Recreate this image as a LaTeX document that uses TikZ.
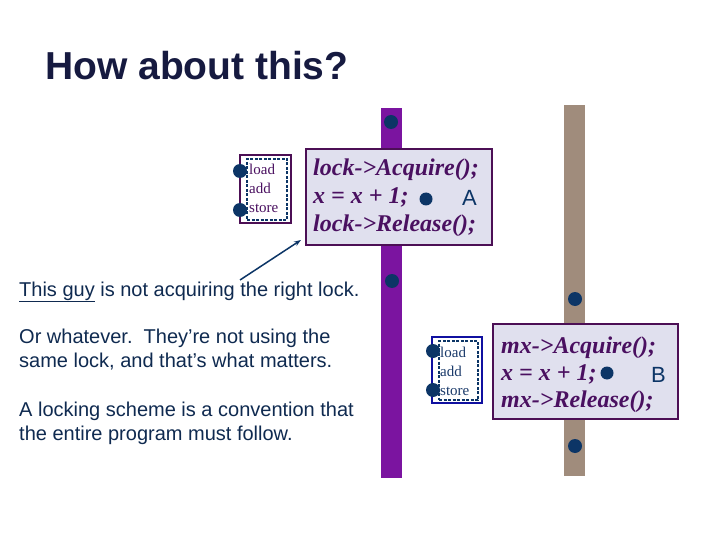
\documentclass[tikz,border=0pt]{standalone}
\usepackage{fontspec}
\setmainfont{Liberation Serif}
\setsansfont{Liberation Sans}
\usetikzlibrary{arrows.meta}
\definecolor{titlec}{HTML}{161A40}
\definecolor{txtc}{HTML}{0F2A50}
\definecolor{barpurple}{HTML}{7B14A0}
\definecolor{barbrown}{HTML}{A08C7C}
\definecolor{boxfill}{HTML}{E0E0EE}
\definecolor{boxline}{HTML}{4C0F55}
\definecolor{codec}{HTML}{4A1060}
\definecolor{dotc}{HTML}{0C3566}
\definecolor{smallblue}{HTML}{1010A0}
\definecolor{smalltxtB}{HTML}{1A3A6A}
\tikzset{
  sans/.style={font=\sffamily\fontsize{20}{24}\selectfont, text=txtc, inner sep=0pt, anchor=base west},
  code/.style={font=\rmfamily\bfseries\itshape\fontsize{24}{28}\selectfont, text=codec, inner sep=0pt, anchor=base west},
  codebox/.style={draw=boxline, line width=1.6pt, fill=boxfill, inner sep=0pt},
  smallout/.style={draw=#1, line width=1.5pt, fill=white, inner sep=0pt},
  smallin/.style={draw=dotc, dashed, dash pattern=on 3pt off 1.5pt, line width=1.3pt, inner sep=0pt},
  smalltxt/.style={font=\rmfamily\fontsize{15}{17}\selectfont, text=#1, inner sep=0pt, anchor=base west},
  dot/.style={circle, fill=dotc, minimum size=14pt, inner sep=0pt},
  letter/.style={font=\sffamily\fontsize{22}{26}\selectfont, text=dotc, inner sep=0pt, anchor=base west},
}
\begin{document}
\begin{tikzpicture}[x=1pt,y=-1pt]
\useasboundingbox (0,0) rectangle (720,540);
\fill[white] (0,0) rectangle (720,540);

% title
\node[font=\sffamily\bfseries\fontsize{39}{44}\selectfont, text=titlec, inner sep=0pt, anchor=base west] (title) at (45,80) {How about this?};

% thread bars
\fill[barpurple] (381,108) rectangle (402,478);
\fill[barbrown] (564,105) rectangle (585,476);

% dots on bars
\node[dot] (pa1) at (391,122) {};
\node[dot] (pa2) at (392,281) {};
\node[dot] (pb1) at (575,299) {};
\node[dot] (pb2) at (575,446) {};

% box A
\node[codebox, minimum width=186pt, minimum height=96pt] (boxA) at (399,197) {};
\node[code] (a1) at (313,176) {lock->Acquire();};
\node[code] (a2) at (313,204) {x = x + 1;};
\node[dot, minimum size=13pt] (adot) at (426,199) {};
\node[letter] (aA) at (462,206) {A};
\node[code] (a3) at (313,232) {lock->Release();};

% box B
\node[codebox, minimum width=185pt, minimum height=95pt] (boxB) at (585.5,371.5) {};
\node[code] (b1) at (501,353) {mx->Acquire();};
\node[code] (b2) at (501,380) {x = x + 1;};
\node[dot, minimum size=13pt] (bdot) at (607,373) {};
\node[letter] (bB) at (651,382) {B};
\node[code] (b3) at (501,407) {mx->Release();};

% small box 1
\node[smallout=boxline, minimum width=51pt, minimum height=68pt] (s1) at (265.5,189) {};
\node[smallin, minimum width=40pt, minimum height=61pt] (s1i) at (267,189.5) {};
\node[smalltxt=codec] (s1a) at (249,175) {load};
\node[smalltxt=codec] (s1b) at (249,194) {add};
\node[smalltxt=codec] (s1c) at (249,213) {store};
\node[dot] (s1d1) at (240,171) {};
\node[dot] (s1d2) at (240,210) {};

% small box 2
\node[smallout=smallblue, minimum width=50pt, minimum height=66pt] (s2) at (457,370) {};
\node[smallin, minimum width=39pt, minimum height=59pt] (s2i) at (458.5,370.5) {};
\node[smalltxt=smalltxtB] (s2a) at (440,357) {load};
\node[smalltxt=smalltxtB] (s2b) at (440,376) {add};
\node[smalltxt=smalltxtB] (s2c) at (440,395) {store};
\node[dot] (s2d1) at (433,351) {};
\node[dot] (s2d2) at (433,390) {};

% left text
\node[sans] (t1) at (19,296) {\underline{This guy} is not acquiring the right lock.};
\node[sans] (t2) at (19,343) {Or whatever.\ \ They’re not using the};
\node[sans] (t3) at (19,367) {same lock, and that’s what matters.};
\node[sans] (t4) at (19,416) {A locking scheme is a convention that};
\node[sans] (t5) at (19,440) {the entire program must follow.};

% arrow
\coordinate (arrS) at (240,280);
\coordinate (arrE) at (301,240);
\draw[dotc, line width=1.5pt, -{Stealth[length=7pt,width=5pt]}] (arrS) -- (arrE);
\end{tikzpicture}
\end{document}
